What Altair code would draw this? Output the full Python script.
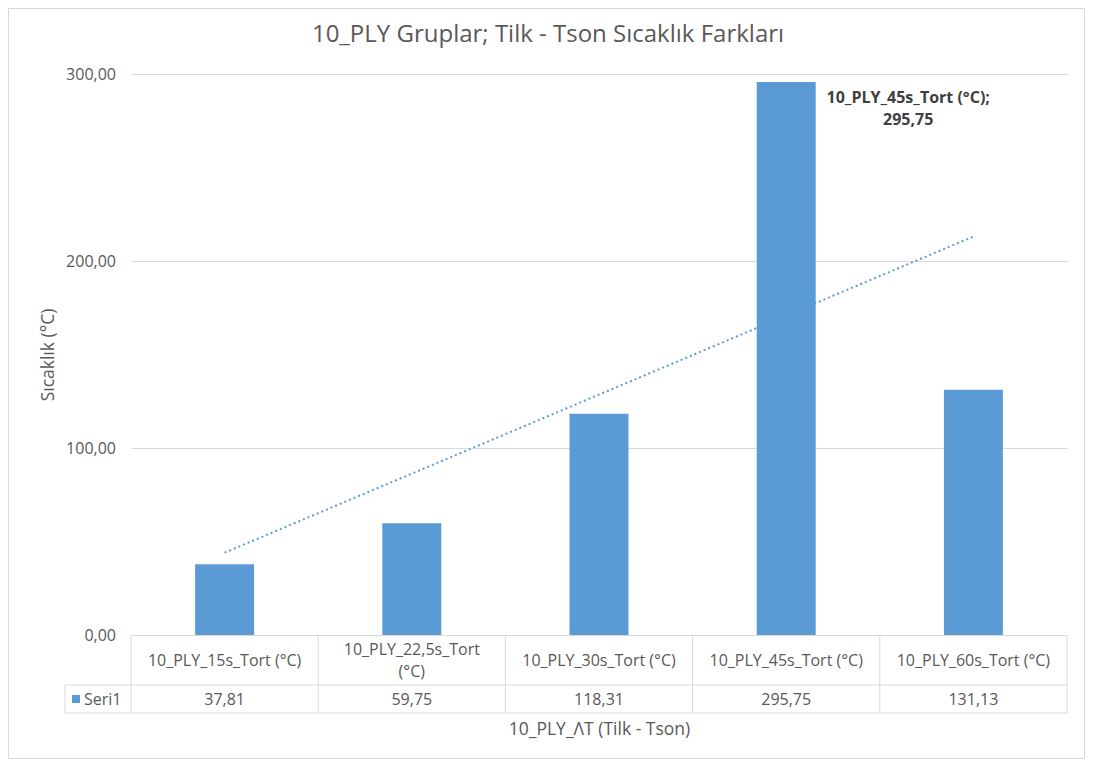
import json
import altair as alt
import pandas as pd

# ---- data ----
categories = [
    "10_PLY_15s_Tort (°C)",
    "10_PLY_22,5s_Tort (°C)",
    "10_PLY_30s_Tort (°C)",
    "10_PLY_45s_Tort (°C)",
    "10_PLY_60s_Tort (°C)",
]
values = [37.81, 59.75, 118.31, 295.75, 131.13]
y_ticks = [0, 100, 200, 300]
series_name = "Seri1"
labeled = ["10_PLY_45s_Tort (°C)"]
chart_title = "10_PLY Gruplar; Tilk - Tson Sıcaklık Farkları"
x_title = "10_PLY_ΛT (Tilk - Tson)"
y_title = "Sıcaklık (°C)"

# ---- style ----
W, H = 936, 561
FONT = "Open Sans"
TXT = "#595959"
BLUE = "#5B9BD5"
GRID = "#D9D9D9"
ROW1 = 611   # bottom of the category row of the data table
ROW2 = 639   # bottom of the value row
WRAP = "length(datum.cat) > 20"

df = pd.DataFrame({"cat": categories, "val": values})
fmt = "replace(format(datum.val, '.2f'), '.', ',')"

base = alt.Chart(df)
one = alt.Chart(alt.Data(values=[{}]))

xscale = alt.Scale(domain=categories, paddingInner=0, paddingOuter=0)
xenc = alt.X(
    "cat:N",
    sort=categories,
    scale=xscale,
    axis=alt.Axis(
        title=x_title, labels=False, ticks=False, domain=False, grid=False,
        titlePadding=85, titleFont=FONT, titleFontSize=17.5,
        titleFontWeight="normal", titleColor=TXT,
    ),
)
yenc = alt.Y(
    "val:Q",
    scale=alt.Scale(domain=[0, 300], nice=False),
    axis=alt.Axis(
        values=y_ticks, title=y_title, grid=True, gridColor=GRID,
        domain=False, ticks=False, labelPadding=15.5,
        labelExpr="replace(format(datum.value, '.2f'), '.', ',')",
        labelFont=FONT, labelFontSize=16, labelColor=TXT,
        titleFont=FONT, titleFontSize=17.5, titleFontWeight="normal",
        titleColor=TXT, titleAngle=270, titleBaseline="bottom",
        titleX=-74, titleY=H / 2,
    ),
)

bars = base.mark_bar(color=BLUE, width=alt.RelativeBandSize(band=0.315)).encode(
    x=xenc, y=yenc
)

trend = (
    base.transform_window(idx="row_number()")
    .transform_regression("idx", "val", method="linear", extent=[1, len(categories)])
    .transform_calculate(
        cat=json.dumps(categories, ensure_ascii=False) + "[round(datum.idx) - 1]"
    )
    .mark_line(color=BLUE, strokeDash=[2, 3], strokeWidth=2)
    .encode(x=alt.X("cat:N", sort=categories), y="val:Q")
)

annot = (
    base.transform_filter(alt.FieldOneOfPredicate(field="cat", oneOf=labeled))
    .transform_calculate(lab="datum.cat + ';\\n' + " + fmt)
    .mark_text(
        font=FONT, fontSize=16, fontWeight="bold", color="#404040",
        lineBreak="\n", lineHeight=22, align="center", baseline="top",
        dx=122, dy=8,
    )
    .encode(x=alt.X("cat:N", sort=categories), y="val:Q", text="lab:N")
)

# ---- data table under the plot ----
cat_text_one = (
    base.transform_filter("!(" + WRAP + ")")
    .mark_text(font=FONT, fontSize=16, color=TXT, baseline="middle", align="center")
    .encode(x=alt.X("cat:N", sort=categories), y=alt.value(587), text="cat:N")
)
cat_text_two = (
    base.transform_filter(WRAP)
    .transform_calculate(lab="replace(datum.cat, ' (', '\\n(')")
    .mark_text(font=FONT, fontSize=16, color=TXT, lineBreak="\n", lineHeight=22,
               baseline="middle", align="center")
    .encode(x=alt.X("cat:N", sort=categories), y=alt.value(576), text="lab:N")
)
val_text = (
    base.transform_calculate(lab=fmt)
    .mark_text(font=FONT, fontSize=16, color=TXT, baseline="middle", align="center")
    .encode(x=alt.X("cat:N", sort=categories), y=alt.value(626), text="lab:N")
)
vlines = base.mark_rule(color=GRID, strokeWidth=1).encode(
    x=alt.X("cat:N", sort=categories, bandPosition=0),
    y=alt.value(H), y2=alt.value(ROW2),
)
vline_end = (
    base.transform_filter(alt.FieldEqualPredicate(field="cat", equal=categories[-1]))
    .mark_rule(color=GRID, strokeWidth=1)
    .encode(x=alt.X("cat:N", sort=categories, bandPosition=1),
            y=alt.value(H), y2=alt.value(ROW2))
)
hline1 = one.mark_rule(color=GRID).encode(x=alt.value(-66), x2=alt.value(W), y=alt.value(ROW1))
hline2 = one.mark_rule(color=GRID).encode(x=alt.value(-66), x2=alt.value(W), y=alt.value(ROW2))
vleft = one.mark_rule(color=GRID).encode(x=alt.value(-66), y=alt.value(ROW1), y2=alt.value(ROW2))
swatch = one.mark_rect(color=BLUE).encode(
    x=alt.value(-59), x2=alt.value(-51), y=alt.value(621), y2=alt.value(629)
)
seri = one.mark_text(text=series_name, font=FONT, fontSize=16, color=TXT,
                     align="left", baseline="middle").encode(
    x=alt.value(-47), y=alt.value(625.5)
)
title = one.mark_text(text=chart_title, font=FONT, fontSize=24, color=TXT,
                      align="center", baseline="alphabetic").encode(
    x=alt.value(W / 2 - 51), y=alt.value(-32)
)
frame = one.mark_rect(fillOpacity=0, stroke=GRID, strokeWidth=1).encode(
    x=alt.value(-122.5), x2=alt.value(953.5), y=alt.value(-65.5), y2=alt.value(684.5)
)

chart = (
    alt.layer(frame, bars, trend, annot, vlines, vline_end, hline1, hline2, vleft,
              swatch, seri, cat_text_one, cat_text_two, val_text, title)
    .properties(
        width=W, height=H,
        autosize=alt.AutoSizeParams(type="none"),
        padding={"left": 123, "top": 66, "right": 18, "bottom": 124},
        background="white",
    )
    .configure_view(stroke=None)
)

chart.save("out.html", embed_options={"renderer": "svg", "actions": False})
